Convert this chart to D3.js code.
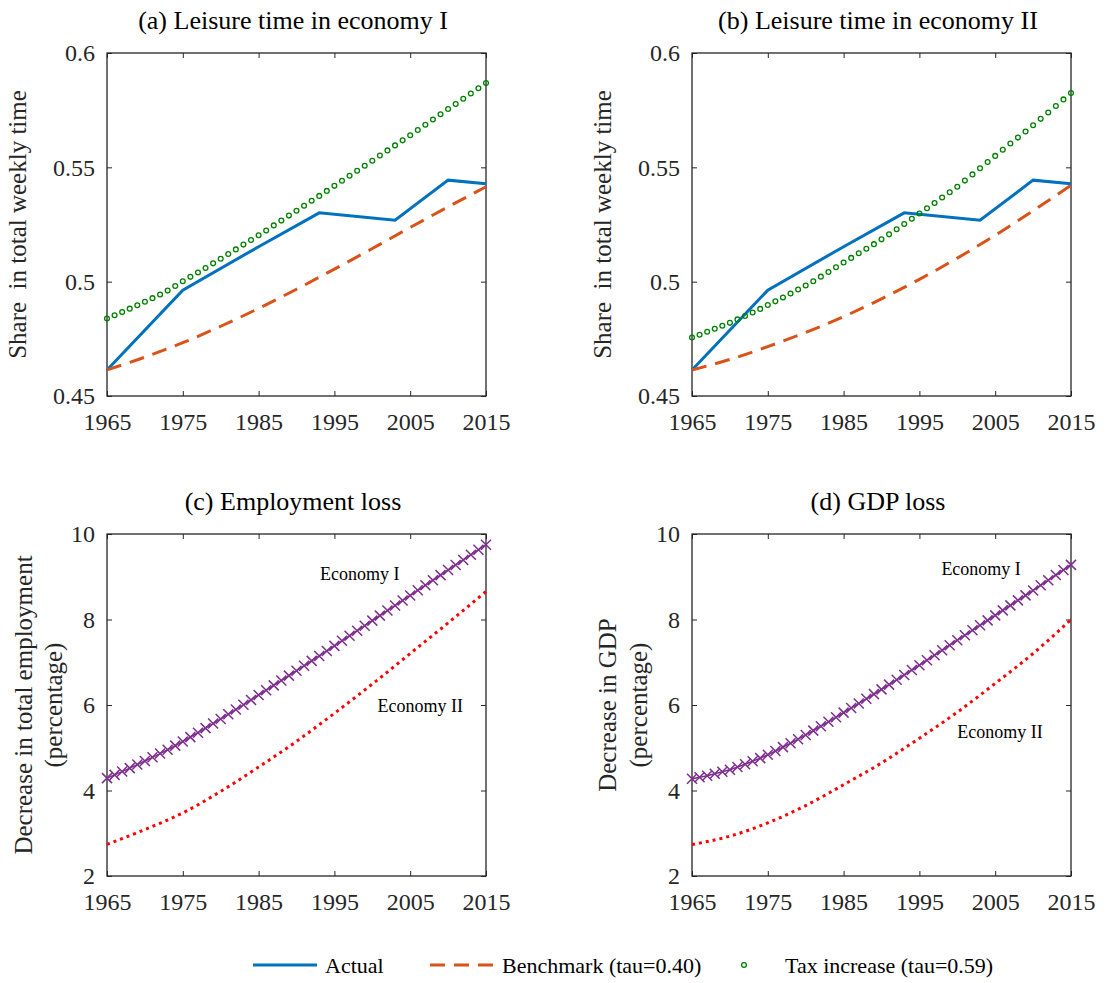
<!DOCTYPE html>
<html lang="en">

<head>
  <meta charset="UTF-8">
  <title>Leisure time, employment and GDP loss</title>
  <script src="https://d3js.org/d3.v7.min.js"></script>
  <style>
    body {
      margin: 0;
      background: white;
    }

    svg {
      display: block;
      font-family: "Liberation Serif", "Times New Roman", serif;
    }
  </style>
</head>

<body>
  <div id="chart"></div>
  <script>

    // ---- data ----
    const years = d3.range(1965, 2016)
    const fiveYears = [1965, 1970, 1975, 1980, 1985, 1990, 1995, 2000, 2005, 2010, 2015]
    const decadeTicks = [1965, 1975, 1985, 1995, 2005, 2015]
    const leisureTicks = [0.45, 0.5, 0.55, 0.6]
    const lossTicks = [2, 4, 6, 8, 10]

    const actualYears = [1965, 1975, 1985, 1993, 2003, 2010, 2015]
    const actualShare = [0.4614, 0.4963, 0.5153, 0.5301, 0.5269, 0.5444, 0.5428]

    // benchmark (tau=0.40), every five years
    const benchEconI = [0.4614, 0.4670, 0.4733, 0.4805, 0.4883, 0.4967, 0.5055, 0.5145, 0.5237, 0.5327, 0.5415]
    const benchEconII = [0.4614, 0.4660, 0.4716, 0.4778, 0.4847, 0.4925, 0.5010, 0.5103, 0.5203, 0.5310, 0.5422]

    // tax increase (tau=0.59), yearly markers
    const taxEconI = [
      0.4839, 0.4853, 0.4867, 0.4882, 0.4897, 0.4912, 0.4928, 0.4944, 0.4961, 0.4981,
      0.5002, 0.5021, 0.5040, 0.5060, 0.5080, 0.5100, 0.5121, 0.5141, 0.5162, 0.5182,
      0.5203, 0.5224, 0.5246, 0.5267, 0.5289, 0.5310, 0.5332, 0.5354, 0.5375, 0.5397,
      0.5419, 0.5441, 0.5463, 0.5485, 0.5507, 0.5529, 0.5552, 0.5574, 0.5596, 0.5618,
      0.5640, 0.5663, 0.5686, 0.5709, 0.5732, 0.5755, 0.5777, 0.5800, 0.5823, 0.5846,
      0.5869]
    const taxEconII = [
      0.4756, 0.4768, 0.4781, 0.4794, 0.4807, 0.4820, 0.4835, 0.4850, 0.4865, 0.4881,
      0.4898, 0.4914, 0.4931, 0.4948, 0.4966, 0.4983, 0.5002, 0.5022, 0.5042, 0.5063,
      0.5084, 0.5104, 0.5124, 0.5144, 0.5164, 0.5185, 0.5207, 0.5229, 0.5252, 0.5275,
      0.5298, 0.5321, 0.5344, 0.5368, 0.5391, 0.5415, 0.5442, 0.5469, 0.5496, 0.5523,
      0.5550, 0.5577, 0.5604, 0.5630, 0.5657, 0.5684, 0.5712, 0.5740, 0.5768, 0.5797,
      0.5825]

    // employment loss, percent
    const emplEconI = [
      4.290, 4.365, 4.443, 4.523, 4.606, 4.690, 4.776, 4.864, 4.954, 5.049,
      5.146, 5.249, 5.353, 5.459, 5.566, 5.674, 5.783, 5.893, 6.004, 6.118,
      6.233, 6.346, 6.459, 6.573, 6.687, 6.802, 6.917, 7.032, 7.148, 7.265,
      7.383, 7.501, 7.619, 7.737, 7.855, 7.973, 8.091, 8.209, 8.327, 8.445,
      8.563, 8.682, 8.800, 8.919, 9.038, 9.156, 9.275, 9.394, 9.513, 9.631,
      9.750]
    const emplEconII = [2.738, 3.087, 3.476, 3.980, 4.548, 5.150, 5.806, 6.490, 7.204, 7.920, 8.656]

    // GDP loss, percent
    const gdpEconI = [
      4.276, 4.310, 4.347, 4.391, 4.437, 4.485, 4.548, 4.614, 4.684, 4.758,
      4.835, 4.924, 5.014, 5.106, 5.201, 5.300, 5.401, 5.503, 5.607, 5.713,
      5.821, 5.929, 6.037, 6.145, 6.255, 6.365, 6.477, 6.589, 6.702, 6.817,
      6.932, 7.048, 7.164, 7.280, 7.398, 7.515, 7.631, 7.747, 7.864, 7.980,
      8.097, 8.214, 8.331, 8.448, 8.564, 8.680, 8.800, 8.919, 9.039, 9.159,
      9.278]
    const gdpEconII = [2.738, 2.932, 3.243, 3.647, 4.136, 4.645, 5.223, 5.832, 6.505, 7.205, 7.996]

    // ---- layout ----
    const width = 1106
    const height = 983
    const ink = '#262626'
    const colors = { actual: '#0072BD', bench: '#D95319', tax: '#008000', econI: '#7E2F8E', econII: '#FF0000' }

    const zip = (xs, ys) => xs.map((x, i) => ({ x, y: ys[i] }))

    const panels = [
      {
        title: '(a) Leisure time in economy I', box: [107, 486, 53, 396], titleX: 293, titleY: 29,
        yDomain: [0.45, 0.6], yTicks: leisureTicks,
        yLabel: [{ text: 'Share  in total weekly time', x: 26 }],
        kind: 'leisure', bench: benchEconI, tax: taxEconI
      },
      {
        title: '(b) Leisure time in economy II', box: [692, 1071, 53, 396], titleX: 878, titleY: 29,
        yDomain: [0.45, 0.6], yTicks: leisureTicks,
        yLabel: [{ text: 'Share  in total weekly time', x: 611 }],
        kind: 'leisure', bench: benchEconII, tax: taxEconII
      },
      {
        title: '(c) Employment loss', box: [107, 486, 534, 876], titleX: 293, titleY: 510,
        yDomain: [2, 10], yTicks: lossTicks,
        yLabel: [{ text: 'Decrease in total employment', x: 32 }, { text: '(percentage)', x: 62 }],
        kind: 'loss', econI: emplEconI, econII: emplEconII,
        notes: [{ text: 'Economy I', x: 1993.1, y: 8.92 }, { text: 'Economy II', x: 2000.7, y: 5.84 }]
      },
      {
        title: '(d) GDP loss', box: [692, 1071, 534, 876], titleX: 878, titleY: 510,
        yDomain: [2, 10], yTicks: lossTicks,
        yLabel: [{ text: 'Decrease in GDP', x: 616 }, { text: '(percentage)', x: 647 }],
        kind: 'loss', econI: gdpEconI, econII: gdpEconII,
        notes: [{ text: 'Economy I', x: 1997.9, y: 9.04 }, { text: 'Economy II', x: 2000, y: 5.23 }]
      }
    ]

    const svg = d3.select('#chart')
      .append('svg')
      .attr('width', width)
      .attr('height', height)

    panels.forEach(p => {
      const [x0, x1, y0, y1] = p.box
      const x = d3.scaleLinear().domain([1965, 2015]).range([x0, x1])
      const y = d3.scaleLinear().domain(p.yDomain).range([y1, y0])
      const g = svg.append('g')

      // axes, ticks pointing inward like matlab
      const styleAxis = sel => {
        sel.select('.domain').remove()
        sel.selectAll('.tick line').attr('stroke', ink).attr('stroke-width', 1)
        sel.selectAll('.tick text')
          .attr('fill', ink)
          .style('font-family', '"Liberation Serif", "Times New Roman", serif')
          .style('font-size', '24px')
      }

      g.append('g')
        .attr('transform', `translate(0,${y1})`)
        .call(d3.axisBottom(x).tickValues(decadeTicks).tickFormat(d3.format('d'))
          .tickSizeInner(-5).tickSizeOuter(0).tickPadding(17))
        .call(styleAxis)
      g.append('g')
        .attr('transform', `translate(0,${y0})`)
        .call(d3.axisTop(x).tickValues(decadeTicks).tickFormat('').tickSizeInner(-5).tickSizeOuter(0))
        .call(styleAxis)
      g.append('g')
        .attr('transform', `translate(${x0},0)`)
        .call(d3.axisLeft(y).tickValues(p.yTicks).tickFormat(d => String(d))
          .tickSizeInner(-5).tickSizeOuter(0).tickPadding(12))
        .call(styleAxis)
      g.append('g')
        .attr('transform', `translate(${x1},0)`)
        .call(d3.axisRight(y).tickValues(p.yTicks).tickFormat('').tickSizeInner(-5).tickSizeOuter(0))
        .call(styleAxis)

      g.append('rect')
        .attr('x', x0).attr('y', y0)
        .attr('width', x1 - x0).attr('height', y1 - y0)
        .attr('fill', 'none')
        .attr('stroke', ink)
        .attr('stroke-width', 1.3)

      g.append('text')
        .attr('x', p.titleX)
        .attr('y', p.titleY)
        .attr('text-anchor', 'middle')
        .attr('font-size', 26)
        .attr('fill', '#000')
        .text(p.title)

      p.yLabel.forEach(l => {
        g.append('text')
          .attr('transform', `translate(${l.x},${(y0 + y1) / 2}) rotate(-90)`)
          .attr('text-anchor', 'middle')
          .attr('font-size', 25)
          .attr('fill', ink)
          .style('white-space', 'pre')
          .text(l.text)
      })

      const line = d3.line().x(d => x(d.x)).y(d => y(d.y))
      const smooth = d3.line().x(d => x(d.x)).y(d => y(d.y)).curve(d3.curveMonotoneX)

      if (p.kind === 'leisure') {
        g.append('path')
          .attr('d', line(zip(actualYears, actualShare)))
          .attr('fill', 'none')
          .attr('stroke', colors.actual)
          .attr('stroke-width', 3)

        g.append('path')
          .attr('d', smooth(zip(fiveYears, p.bench)))
          .attr('fill', 'none')
          .attr('stroke', colors.bench)
          .attr('stroke-width', 3)
          .attr('stroke-dasharray', '15,9')

        g.selectAll('circle.tax')
          .data(zip(years, p.tax))
          .enter().append('circle')
          .attr('class', 'tax')
          .attr('cx', d => x(d.x))
          .attr('cy', d => y(d.y))
          .attr('r', 2.4)
          .attr('fill', 'none')
          .attr('stroke', colors.tax)
          .attr('stroke-width', 1.3)
      } else {
        g.append('path')
          .attr('d', smooth(zip(fiveYears, p.econII)))
          .attr('fill', 'none')
          .attr('stroke', colors.econII)
          .attr('stroke-width', 3)
          .attr('stroke-dasharray', '3,4')

        g.append('path')
          .attr('d', line(zip(years, p.econI)))
          .attr('fill', 'none')
          .attr('stroke', colors.econI)
          .attr('stroke-width', 1.5)

        g.selectAll('path.cross')
          .data(zip(years, p.econI))
          .enter().append('path')
          .attr('class', 'cross')
          .attr('d', 'M-5,-5L5,5M-5,5L5,-5')
          .attr('transform', d => `translate(${x(d.x)},${y(d.y)})`)
          .attr('stroke', colors.econI)
          .attr('stroke-width', 1.5)

        p.notes.forEach(n => {
          g.append('text')
            .attr('x', x(n.x))
            .attr('y', y(n.y))
            .attr('font-size', 18)
            .attr('fill', '#000')
            .text(n.text)
        })
      }
    })

    // ---- legend ----
    const legend = svg.append('g').attr('font-size', 22)
    const ly = 965

    legend.append('line')
      .attr('x1', 253).attr('x2', 317).attr('y1', ly).attr('y2', ly)
      .attr('stroke', colors.actual).attr('stroke-width', 3)
    legend.append('text').attr('x', 325).attr('y', ly + 8).text('Actual')

    legend.append('line')
      .attr('x1', 430).attr('x2', 494).attr('y1', ly).attr('y2', ly)
      .attr('stroke', colors.bench).attr('stroke-width', 3)
      .attr('stroke-dasharray', '15,9')
    legend.append('text').attr('x', 502).attr('y', ly + 8).text('Benchmark (tau=0.40)')

    legend.append('circle')
      .attr('cx', 744).attr('cy', ly).attr('r', 2.4)
      .attr('fill', 'none').attr('stroke', colors.tax).attr('stroke-width', 1.3)
    legend.append('text').attr('x', 785).attr('y', ly + 8).text('Tax increase (tau=0.59)')

  </script>
</body>

</html>
